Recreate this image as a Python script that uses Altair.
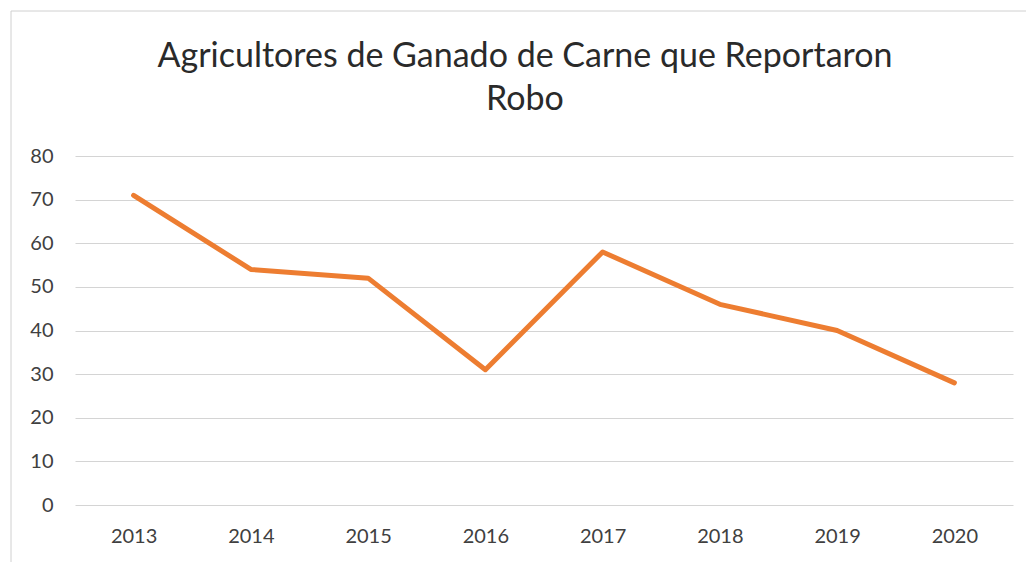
import altair as alt
import pandas as pd

years = ["2013", "2014", "2015", "2016", "2017", "2018", "2019", "2020"]
values = [71, 54, 52, 31, 58, 46, 40, 28]
title_lines = ["Agricultores de Ganado de Carne que Reportaron", "Robo"]

df = pd.DataFrame({"year": years, "value": values})

W, H = 938, 349

frame = alt.Chart(pd.DataFrame({"a": [0]})).mark_rect(
    fill="transparent", stroke="#d0d0d0", strokeWidth=1
).encode(
    x=alt.value(-64), x2=alt.value(W + 40),
    y=alt.value(-145), y2=alt.value(H + 80)
)

title_df = pd.DataFrame({"t": title_lines, "dy": [-99, -56]})
title = alt.Chart(title_df).mark_text(
    font="Lato", fontSize=34, color="#2a2a2a", align="center", baseline="middle"
).encode(
    text="t:N",
    x=alt.value(450),
    y=alt.Y("dy:Q", scale=None),
)

line = alt.Chart(df).mark_line(
    color="#ED7D31", strokeWidth=5, strokeCap="round", strokeJoin="round"
).encode(
    x=alt.X("year:O", sort=years, scale=alt.Scale(type="point", padding=0.5),
            axis=alt.Axis(title=None, labelAngle=0, labelFontSize=20,
                          labelColor="#404040", labelFont="Lato",
                          domain=False, ticks=False, labelPadding=21, grid=False)),
    y=alt.Y("value:Q", scale=alt.Scale(domain=[0, 80], nice=False),
            axis=alt.Axis(title=None, values=list(range(0, 81, 10)),
                          labelFontSize=20, labelColor="#404040", labelFont="Lato",
                          domain=False, ticks=False, labelPadding=22,
                          grid=True, gridColor="#d4d4d4", gridWidth=1))
)

chart = alt.layer(frame, title, line).properties(
    width=W, height=H,
    padding={"left": 75, "top": 156, "right": 13, "bottom": 57},
    autosize=alt.AutoSizeParams(type="none"),
    view=alt.ViewBackground(stroke="transparent", strokeWidth=0)
).configure_view(stroke="transparent", strokeWidth=0).configure(background="white")

chart.save("out.html", embed_options={"renderer": "svg", "actions": False})
